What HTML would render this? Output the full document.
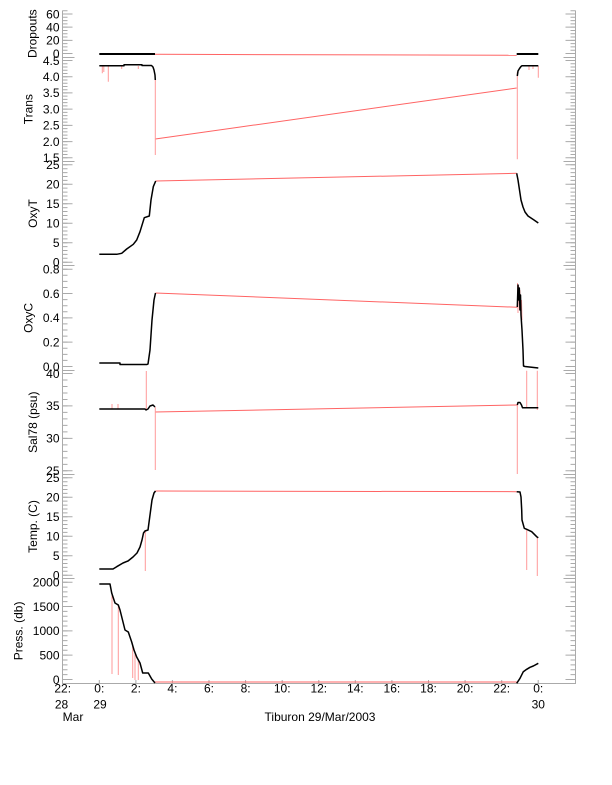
<!DOCTYPE html>
<html><head><meta charset="utf-8"><style>
html,body{margin:0;padding:0;background:#fff;width:612px;height:785px;overflow:hidden}
svg{display:block}
text{font-family:"Liberation Sans",Arial,sans-serif;font-size:12px;fill:#000}
</style></head><body>
<svg width="612" height="785" viewBox="0 0 612 785" xmlns="http://www.w3.org/2000/svg">
<!-- axes -->
<g stroke="#aaa" fill="none" stroke-width="1">
<path d="M62.5 10.5V683.5H575.5V10.5"/>
<path d="M62.5 57.5h12M62.5 161.5h12M62.5 265.5h12M62.5 370.5h12M62.5 474.5h12M62.5 578.5h12"/>
<path d="M575.5 57.5h-12M575.5 161.5h-12M575.5 265.5h-12M575.5 370.5h-12M575.5 474.5h-12M575.5 578.5h-12"/>
<line x1="65" x2="65" y1="10.21" y2="54.1" stroke-width="5" stroke-dasharray="1 2.2917"/>
<line x1="65" x2="65" y1="60" y2="158.4" stroke-width="5" stroke-dasharray="1 2.2433"/>
<line x1="65" x2="65" y1="164.3" y2="262.8" stroke-width="5" stroke-dasharray="1 2.896"/>
<line x1="65" x2="65" y1="268.7" y2="367.1" stroke-width="5" stroke-dasharray="1 5.0813"/>
<line x1="65" x2="65" y1="373" y2="471.4" stroke-width="5" stroke-dasharray="1 5.4867"/>
<line x1="65" x2="65" y1="477.3" y2="575.8" stroke-width="5" stroke-dasharray="1 2.896"/>
<line x1="65" x2="65" y1="581.7" y2="680.1" stroke-width="5" stroke-dasharray="1 3.865"/>
<line x1="67.5" x2="67.5" y1="13.5" y2="54.1" stroke-width="10" stroke-dasharray="1 12.1667"/>
<line x1="67.5" x2="67.5" y1="60" y2="158.4" stroke-width="10" stroke-dasharray="1 15.2167"/>
<line x1="67.5" x2="67.5" y1="164.3" y2="262.8" stroke-width="10" stroke-dasharray="1 18.48"/>
<line x1="67.5" x2="67.5" y1="268.7" y2="367.1" stroke-width="10" stroke-dasharray="1 23.325"/>
<line x1="67.5" x2="67.5" y1="373" y2="471.4" stroke-width="10" stroke-dasharray="1 31.433"/>
<line x1="67.5" x2="67.5" y1="477.3" y2="575.8" stroke-width="10" stroke-dasharray="1 18.48"/>
<line x1="67.5" x2="67.5" y1="581.7" y2="680.1" stroke-width="10" stroke-dasharray="1 23.325"/>
<line x1="573" x2="573" y1="10.21" y2="54.1" stroke-width="5" stroke-dasharray="1 2.2917"/>
<line x1="573" x2="573" y1="60" y2="158.4" stroke-width="5" stroke-dasharray="1 2.2433"/>
<line x1="573" x2="573" y1="164.3" y2="262.8" stroke-width="5" stroke-dasharray="1 2.896"/>
<line x1="573" x2="573" y1="268.7" y2="367.1" stroke-width="5" stroke-dasharray="1 5.0813"/>
<line x1="573" x2="573" y1="373" y2="471.4" stroke-width="5" stroke-dasharray="1 5.4867"/>
<line x1="573" x2="573" y1="477.3" y2="575.8" stroke-width="5" stroke-dasharray="1 2.896"/>
<line x1="573" x2="573" y1="581.7" y2="680.1" stroke-width="5" stroke-dasharray="1 3.865"/>
<line x1="570.5" x2="570.5" y1="13.5" y2="54.1" stroke-width="10" stroke-dasharray="1 12.1667"/>
<line x1="570.5" x2="570.5" y1="60" y2="158.4" stroke-width="10" stroke-dasharray="1 15.2167"/>
<line x1="570.5" x2="570.5" y1="164.3" y2="262.8" stroke-width="10" stroke-dasharray="1 18.48"/>
<line x1="570.5" x2="570.5" y1="268.7" y2="367.1" stroke-width="10" stroke-dasharray="1 23.325"/>
<line x1="570.5" x2="570.5" y1="373" y2="471.4" stroke-width="10" stroke-dasharray="1 31.433"/>
<line x1="570.5" x2="570.5" y1="477.3" y2="575.8" stroke-width="10" stroke-dasharray="1 18.48"/>
<line x1="570.5" x2="570.5" y1="581.7" y2="680.1" stroke-width="10" stroke-dasharray="1 23.325"/>
<path d="M99.3 683v-3M135.9 683v-3M172.4 683v-3M209 683v-3M245.6 683v-3M282.2 683v-3M318.8 683v-3M355.3 683v-3M391.9 683v-3M428.5 683v-3M465.1 683v-3M501.7 683v-3M538.2 683v-3"/>
</g>

<g text-anchor="end">
<text x="59.5" y="18.3">60</text><text x="59.5" y="31.5">40</text><text x="59.5" y="44.6">20</text><text x="59.5" y="57.8">0</text>
<text x="59.5" y="64.8">4.5</text><text x="59.5" y="81">4.0</text><text x="59.5" y="97.2">3.5</text><text x="59.5" y="113.4">3.0</text><text x="59.5" y="129.7">2.5</text><text x="59.5" y="145.9">2.0</text><text x="59.5" y="162.1">1.5</text>
<text x="59.5" y="169.1">25</text><text x="59.5" y="188.6">20</text><text x="59.5" y="208.1">15</text><text x="59.5" y="227.5">10</text><text x="59.5" y="247">5</text><text x="59.5" y="266.5">0</text>
<text x="59.5" y="273.5">0.8</text><text x="59.5" y="297.8">0.6</text><text x="59.5" y="322.1">0.4</text><text x="59.5" y="346.5">0.2</text><text x="59.5" y="370.8">0.0</text>
<text x="59.5" y="377.8">40</text><text x="59.5" y="410.2">35</text><text x="59.5" y="442.7">30</text><text x="59.5" y="475.1">25</text>
<text x="59.5" y="482.1">25</text><text x="59.5" y="501.6">20</text><text x="59.5" y="521.1">15</text><text x="59.5" y="540.5">10</text><text x="59.5" y="560">5</text><text x="59.5" y="579.5">0</text>
<text x="59.5" y="586.5">2000</text><text x="59.5" y="610.8">1500</text><text x="59.5" y="635.2">1000</text><text x="59.5" y="659.5">500</text><text x="59.5" y="683.8">0</text>
</g>

<g text-anchor="middle">
<text transform="translate(36.5,33.7) rotate(-90)">Dropouts</text>
<text transform="translate(32.5,109.2) rotate(-90)">Trans</text>
<text transform="translate(37,213.5) rotate(-90)">OxyT</text>
<text transform="translate(32.5,317.9) rotate(-90)">OxyC</text>
<text transform="translate(37,422.2) rotate(-90)">Sal78 (psu)</text>
<text transform="translate(37,526.5) rotate(-90)">Temp. (C)</text>
<text transform="translate(22.5,630.9) rotate(-90)">Press. (db)</text>
</g>

<g text-anchor="middle">
<text x="62.7" y="692.3">22:</text><text x="99.3" y="692.3">0:</text><text x="135.9" y="692.3">2:</text><text x="172.4" y="692.3">4:</text><text x="209" y="692.3">6:</text><text x="245.6" y="692.3">8:</text><text x="282.2" y="692.3">10:</text><text x="318.8" y="692.3">12:</text><text x="355.3" y="692.3">14:</text><text x="391.9" y="692.3">16:</text><text x="428.5" y="692.3">18:</text><text x="465.1" y="692.3">20:</text><text x="501.7" y="692.3">22:</text><text x="538.2" y="692.3">0:</text>
<text x="61.5" y="708.3">28</text><text x="100" y="708.3">29</text><text x="538.3" y="708.3">30</text>
<text x="73" y="721">Mar</text>
<text x="320" y="721">Tiburon 29/Mar/2003</text>
</g>

<g stroke="#ff6464" stroke-width="1" fill="none">
<path d="M155 54.3L516.7 55.3"/>
<path d="M155.3 139L516.7 88"/>
<path d="M155.7 181L516.7 173.3"/>
<path d="M155.5 293L517.3 307.3"/>
<path d="M155 412L517.3 405"/>
<path d="M155.5 491L516.7 491.7"/>
<path d="M155 682L516.7 682"/>
</g>
<g stroke="#ff9a9a" stroke-width="1" fill="none">
<path d="M155.3 78V155M517.3 159.3V72"/>
<path d="M102.3 66V73.3M103.8 66V72M108.3 66V81.7M121.7 66V69M138.3 66V69M529 66V70M533 66V69M538.3 66V77.7"/>
<path d="M517.5 283L518 313M518.5 285L519.5 310M519.8 290L520.5 305M521.5 300L522 320"/>
<path d="M146.3 371V409M155.3 407V470M112 409V404M118 409V404M517.3 405V474M526.7 370.7V407.7M537.3 370.7V410"/>
<path d="M145.3 530V571M526.7 529V570M537.3 537V576"/>
<path d="M112 593V674M118.3 605V675M132.7 646V678M135 652V680M138.3 660V680"/>
</g>

<g stroke="#000" stroke-width="1.5" fill="none" stroke-linejoin="round">
<path d="M99.3 54H155M516.7 54H538.3" stroke-width="2"/>
<path d="M99.3 65.7H124V64.8H142V65.5H151.5L153 67L154 70L155 75L155.3 80"/>
<path d="M517.3 76L518 71L519.5 68.5L521 66.5L522 65.7H538.3"/>
<path d="M99.3 254.3H116.7L121.7 253.3L126.7 249L133.3 244.3L136.7 240L140 231.7L144.3 217.7L149.3 216L151 200L153.3 186.7L155.7 181"/>
<path d="M516.7 173.3L518 180L519.5 190L521 200L523 207L525 212L528 216L531 218L534 220L538.3 223"/>
<path d="M99.3 363H120V364.5H147L148 364L150 350L152 320L154 300L155.5 293"/>
<path d="M517.3 307L518 285L518.7 300L519.3 288L520 310L520.5 295L521 315L522 330L523 350L523.5 366L525 366.5L538.3 368"/>
<path d="M99.3 409H145L146 410L148 409L150 406L153 405L155 407"/>
<path d="M517.3 405L518 402.5H520L521.5 405L522.5 407.7H538.3"/>
<path d="M99.3 569H113L116.7 566.7L123 563L128 561L133 557L137 553L140 547L142 540L143.5 533L145 531L148 530L150 515L152 500L154 493L155.5 491"/>
<path d="M516.7 491.7L520 492L521 497L521.7 510L522 520L524.3 528.3L526.7 529.3L531.7 531.7L536.7 536.7L538.3 537.7"/>
<path d="M99.3 584H110L111.7 593L115 603L118.3 605L120 610L125 630L128.3 632L131.7 642L134 650L136.7 657L140 663L142.7 673L148.3 673L151.7 679L155 683"/>
<path d="M516.7 683.3L520 678.3L523.3 671.7L526.7 669.3L530 667.3L533.3 666L538.3 663.3"/>
</g>
</svg>
</body></html>
